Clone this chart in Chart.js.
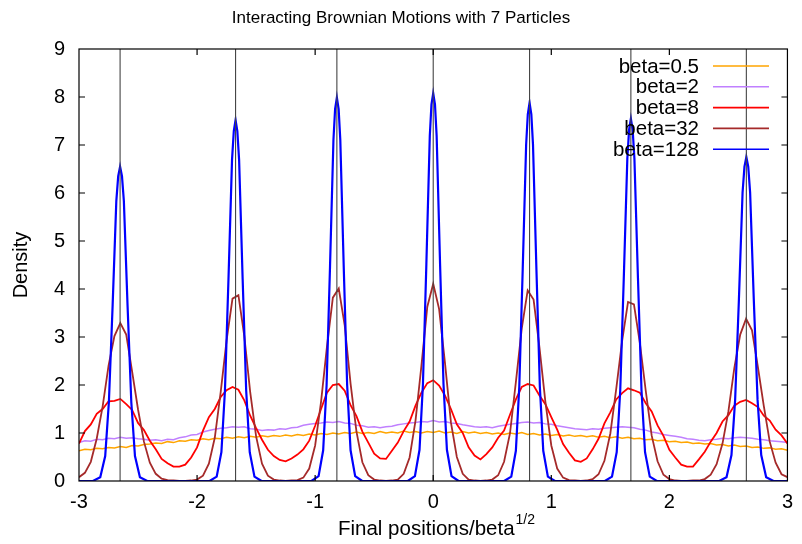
<!DOCTYPE html>
<html>
<head>
<meta charset="utf-8">
<script src="https://cdn.jsdelivr.net/npm/chart.js@4.4.0/dist/chart.umd.min.js"></script>
<style>
  html, body { margin: 0; padding: 0; background: #fff; }
</style>
</head>
<body>
<canvas id="chart" width="802" height="544"></canvas>
<script>
// positions where the histograms were sampled
const gridX = [
  -3.00, -2.95, -2.90, -2.85, -2.80, -2.75, -2.70, -2.65, -2.60, -2.55,
  -2.50, -2.45, -2.40, -2.35, -2.30, -2.25, -2.20, -2.15, -2.10, -2.05,
  -2.00, -1.95, -1.90, -1.85, -1.80, -1.75, -1.70, -1.65, -1.60, -1.55,
  -1.50, -1.45, -1.40, -1.35, -1.30, -1.25, -1.20, -1.15, -1.10, -1.05,
  -1.00, -0.95, -0.90, -0.85, -0.80, -0.75, -0.70, -0.65, -0.60, -0.55,
  -0.50, -0.45, -0.40, -0.35, -0.30, -0.25, -0.20, -0.15, -0.10, -0.05,
   0.00,  0.05,  0.10,  0.15,  0.20,  0.25,  0.30,  0.35,  0.40,  0.45,
   0.50,  0.55,  0.60,  0.65,  0.70,  0.75,  0.80,  0.85,  0.90,  0.95,
   1.00,  1.05,  1.10,  1.15,  1.20,  1.25,  1.30,  1.35,  1.40,  1.45,
   1.50,  1.55,  1.60,  1.65,  1.70,  1.75,  1.80,  1.85,  1.90,  1.95,
   2.00,  2.05,  2.10,  2.15,  2.20,  2.25,  2.30,  2.35,  2.40,  2.45,
   2.50,  2.55,  2.60,  2.65,  2.70,  2.75,  2.80,  2.85,  2.90,  2.95,
   3.00
];

const beta05 = [
  0.63, 0.66, 0.65, 0.68, 0.67, 0.70, 0.69, 0.72, 0.70, 0.74,
  0.73, 0.76, 0.77, 0.79, 0.78, 0.82, 0.80, 0.84, 0.83, 0.86,
  0.85, 0.88, 0.86, 0.89, 0.88, 0.91, 0.89, 0.92, 0.90, 0.93,
  0.91, 0.94, 0.92, 0.95, 0.93, 0.96, 0.94, 0.97, 0.95, 0.98,
  0.96, 0.99, 0.97, 1.00, 0.98, 1.01, 0.99, 1.02, 0.99, 1.01,
  0.99, 1.03, 1.00, 1.02, 1.00, 1.04, 1.01, 1.03, 1.00, 1.03,
  1.01, 1.04, 1.00, 1.02, 0.99, 1.03, 1.00, 1.02, 0.99, 1.01,
  0.98, 1.00, 0.97, 1.00, 0.98, 1.01, 0.97, 0.99, 0.96, 0.98,
  0.95, 0.97, 0.94, 0.96, 0.93, 0.95, 0.92, 0.94, 0.91, 0.93,
  0.90, 0.92, 0.89, 0.91, 0.88, 0.89, 0.86, 0.87, 0.84, 0.85,
  0.82, 0.83, 0.80, 0.81, 0.78, 0.79, 0.77, 0.78, 0.75, 0.76,
  0.73, 0.75, 0.72, 0.73, 0.70, 0.71, 0.68, 0.69, 0.66, 0.67,
  0.64
];

const beta2 = [
  0.80, 0.84, 0.83, 0.87, 0.86, 0.89, 0.88, 0.91, 0.89, 0.90,
  0.88, 0.87, 0.85, 0.86, 0.84, 0.87, 0.86, 0.90, 0.92, 0.96,
  0.97, 1.02, 1.05, 1.08, 1.10, 1.11, 1.13, 1.12, 1.13, 1.09,
  1.08, 1.05, 1.07, 1.06, 1.09, 1.08, 1.11, 1.12, 1.16, 1.18,
  1.20, 1.21, 1.23, 1.22, 1.24, 1.21, 1.20, 1.16, 1.15, 1.12,
  1.13, 1.11, 1.13, 1.14, 1.17, 1.19, 1.21, 1.22, 1.24, 1.23,
  1.26, 1.23, 1.24, 1.21, 1.20, 1.17, 1.15, 1.13, 1.12, 1.13,
  1.11, 1.14, 1.16, 1.18, 1.20, 1.22, 1.23, 1.21, 1.22, 1.19,
  1.18, 1.15, 1.13, 1.11, 1.09, 1.08, 1.07, 1.09, 1.08, 1.10,
  1.11, 1.12, 1.13, 1.12, 1.11, 1.08, 1.06, 1.02, 1.00, 0.97,
  0.95, 0.93, 0.91, 0.88, 0.87, 0.85, 0.84, 0.86, 0.87, 0.89,
  0.88, 0.90, 0.91, 0.90, 0.89, 0.87, 0.86, 0.84, 0.83, 0.82,
  0.80
];

const beta8 = [
  0.78, 1.04, 1.18, 1.40, 1.50, 1.66, 1.67, 1.71, 1.60, 1.48,
  1.21, 1.06, 0.84, 0.66, 0.46, 0.37, 0.30, 0.30, 0.34, 0.49,
  0.70, 1.05, 1.33, 1.50, 1.75, 1.89, 1.96, 1.90, 1.68, 1.36,
  1.10, 0.86, 0.65, 0.52, 0.44, 0.41, 0.47, 0.55, 0.66, 0.84,
  1.15, 1.50, 1.84, 2.00, 2.02, 1.88, 1.58, 1.35, 1.03, 0.80,
  0.57, 0.47, 0.46, 0.63, 0.80, 1.04, 1.24, 1.57, 1.84, 2.04,
  2.10, 1.99, 1.78, 1.50, 1.18, 1.00, 0.70, 0.53, 0.45, 0.56,
  0.70, 0.90, 1.05, 1.38, 1.70, 1.96, 2.02, 1.99, 1.78, 1.60,
  1.33, 1.07, 0.77, 0.59, 0.43, 0.40, 0.47, 0.66, 0.88, 1.20,
  1.43, 1.70, 1.83, 1.93, 1.89, 1.84, 1.62, 1.45, 1.16, 0.94,
  0.65, 0.49, 0.34, 0.30, 0.30, 0.45, 0.61, 0.82, 1.00, 1.24,
  1.37, 1.57, 1.65, 1.69, 1.62, 1.54, 1.36, 1.26, 1.07, 0.95,
  0.78
];

const beta32 = [
  0.08, 0.17, 0.40, 0.88, 1.55, 2.40, 3.02, 3.29, 3.05, 2.28,
  1.49, 0.82, 0.38, 0.15, 0.05, 0.02, 0.01, 0.00, 0.00, 0.01,
  0.03, 0.11, 0.36, 0.90, 1.85, 2.93, 3.80, 3.87, 3.02, 1.85,
  0.93, 0.36, 0.11, 0.03, 0.01, 0.00, 0.01, 0.02, 0.07, 0.26,
  0.74, 1.65, 2.80, 3.82, 4.01, 3.25, 2.03, 1.03, 0.39, 0.12,
  0.03, 0.01, 0.00, 0.01, 0.03, 0.15, 0.49, 1.26, 2.40, 3.63,
  4.11, 3.58, 2.45, 1.22, 0.50, 0.15, 0.03, 0.01, 0.00, 0.01,
  0.03, 0.12, 0.40, 0.99, 2.06, 3.18, 3.97, 3.78, 2.78, 1.65,
  0.74, 0.26, 0.07, 0.02, 0.01, 0.00, 0.01, 0.04, 0.14, 0.42,
  0.99, 1.92, 2.92, 3.73, 3.68, 2.88, 1.88, 0.95, 0.41, 0.13,
  0.04, 0.01, 0.00, 0.00, 0.01, 0.01, 0.04, 0.13, 0.35, 0.78,
  1.45, 2.35, 3.05, 3.38, 3.14, 2.37, 1.56, 0.82, 0.38, 0.14,
  0.08
];

// beta=128 is so narrow it gets its own finer sample points
const beta128X = [
  -3.00,
  -2.882, -2.820, -2.778, -2.747, -2.715, -2.684, -2.668, -2.652, -2.636, -2.620, -2.589, -2.557, -2.526, -2.484, -2.422,
  -1.894, -1.834, -1.794, -1.764, -1.734, -1.704, -1.689, -1.674, -1.659, -1.644, -1.614, -1.584, -1.554, -1.514, -1.454,
  -1.031, -0.971, -0.932, -0.903, -0.874, -0.845, -0.831, -0.816, -0.801, -0.787, -0.758, -0.729, -0.700, -0.661, -0.601,
  -0.215, -0.155, -0.116, -0.087, -0.058, -0.029, -0.015, 0.000, 0.015, 0.029, 0.058, 0.087, 0.116, 0.155, 0.215,
  0.601, 0.661, 0.700, 0.729, 0.758, 0.787, 0.801, 0.816, 0.831, 0.845, 0.874, 0.903, 0.932, 0.971, 1.031,
  1.454, 1.514, 1.554, 1.584, 1.614, 1.644, 1.659, 1.674, 1.689, 1.704, 1.734, 1.764, 1.794, 1.834, 1.894,
  2.422, 2.484, 2.526, 2.557, 2.589, 2.620, 2.636, 2.652, 2.668, 2.684, 2.715, 2.747, 2.778, 2.820, 2.882,
  3.00
];
const beta128 = [
  0,
  0, 0.08, 0.52, 1.64, 3.67, 5.83, 6.35, 6.55, 6.35, 5.83, 3.67, 1.64, 0.52, 0.08, 0,
  0, 0.09, 0.60, 1.88, 4.21, 6.69, 7.29, 7.52, 7.29, 6.69, 4.21, 1.88, 0.60, 0.09, 0,
  0, 0.10, 0.64, 2.00, 4.47, 7.11, 7.75, 7.99, 7.75, 7.11, 4.47, 2.00, 0.64, 0.10, 0,
  0, 0.10, 0.65, 2.02, 4.52, 7.19, 7.84, 8.08, 7.84, 7.19, 4.52, 2.02, 0.65, 0.10, 0,
  0, 0.09, 0.63, 1.97, 4.41, 7.01, 7.64, 7.88, 7.64, 7.01, 4.41, 1.97, 0.63, 0.09, 0,
  0, 0.09, 0.60, 1.89, 4.23, 6.72, 7.32, 7.55, 7.32, 6.72, 4.23, 1.89, 0.60, 0.09, 0,
  0, 0.08, 0.54, 1.69, 3.78, 6.01, 6.55, 6.75, 6.55, 6.01, 3.78, 1.69, 0.54, 0.08, 0,
  0
];

// zeros of the Hermite polynomial H7 (vertical reference lines)
const hermiteZeros = [-2.652, -1.674, -0.816, 0, 0.816, 1.674, 2.652];

const seriesLabels = ['beta=0.5', 'beta=2', 'beta=8', 'beta=32', 'beta=128'];
const seriesColors = ['#ffa500', '#c080ff', '#ff0000', '#a52a2a', '#0000ff'];
const seriesWidths = [1.5, 1.5, 1.8, 1.8, 2.2];

const FONT = '"Liberation Sans", Arial, Helvetica, sans-serif';

function toPoints(xArr, yArr) {
  return xArr.map((x, i) => ({ x: x, y: yArr[i] }));
}

const curves = [
  toPoints(gridX, beta05),
  toPoints(gridX, beta2),
  toPoints(gridX, beta8),
  toPoints(gridX, beta32),
  toPoints(beta128X, beta128)
];

const datasets = curves.map((pts, i) => ({
  label: seriesLabels[i],
  data: pts,
  borderColor: seriesColors[i],
  borderWidth: seriesWidths[i],
  pointRadius: 0,
  tension: 0,
  fill: false,
  order: 5 - i
}));

// the reference lines sit on top of the curves
hermiteZeros.forEach(z => {
  datasets.push({
    label: '',
    data: [{ x: z, y: 0 }, { x: z, y: 9 }],
    borderColor: '#444',
    borderWidth: 1.1,
    pointRadius: 0,
    order: 0
  });
});

// gnuplot look: frame, inward ticks, legend, title and axis labels
const gnuplotDecor = {
  id: 'gnuplotDecor',
  afterDraw(chart) {
    const ctx = chart.ctx;
    const a = chart.chartArea;
    const xs = chart.scales.x, ys = chart.scales.y;
    ctx.save();
    ctx.strokeStyle = '#000';
    ctx.lineWidth = 1.2;
    ctx.strokeRect(a.left, a.top, a.right - a.left, a.bottom - a.top);

    const tl = 6;
    ctx.beginPath();
    xs.ticks.forEach(t => {
      if (t.value <= xs.min || t.value >= xs.max) return;
      const px = xs.getPixelForValue(t.value);
      ctx.moveTo(px, a.bottom); ctx.lineTo(px, a.bottom - tl);
      ctx.moveTo(px, a.top); ctx.lineTo(px, a.top + tl);
    });
    ys.ticks.forEach(t => {
      if (t.value <= ys.min || t.value >= ys.max) return;
      const py = ys.getPixelForValue(t.value);
      ctx.moveTo(a.left, py); ctx.lineTo(a.left + tl, py);
      ctx.moveTo(a.right, py); ctx.lineTo(a.right - tl, py);
    });
    ctx.stroke();

    // legend, text right aligned with the sample line after it
    ctx.font = '20.5px ' + FONT;
    ctx.textAlign = 'right';
    ctx.textBaseline = 'middle';
    seriesLabels.forEach((lab, i) => {
      const y = 66 + i * 20.8;
      ctx.fillStyle = '#000';
      ctx.fillText(lab, 699, y + 1);
      ctx.strokeStyle = seriesColors[i];
      ctx.lineWidth = 1.6;
      ctx.beginPath();
      ctx.moveTo(713, y); ctx.lineTo(769, y);
      ctx.stroke();
    });

    // title
    ctx.fillStyle = '#000';
    ctx.textAlign = 'center';
    ctx.font = '17px ' + FONT;
    ctx.fillText('Interacting Brownian Motions with 7 Particles', 401, 18);

    // x label with superscript
    const main = 'Final positions/beta', sup = '1/2';
    ctx.font = '20.5px ' + FONT;
    const w1 = ctx.measureText(main).width;
    ctx.font = '14px ' + FONT;
    const w2 = ctx.measureText(sup).width;
    const x0 = 436 - (w1 + w2) / 2;
    ctx.textAlign = 'left';
    ctx.textBaseline = 'alphabetic';
    ctx.font = '20.5px ' + FONT;
    ctx.fillText(main, x0, 535);
    ctx.font = '14px ' + FONT;
    ctx.fillText(sup, x0 + w1 + 1, 524);

    // y label
    ctx.translate(21, 265);
    ctx.rotate(-Math.PI / 2);
    ctx.textAlign = 'center';
    ctx.textBaseline = 'middle';
    ctx.font = '20px ' + FONT;
    ctx.fillText('Density', 0, 0);
    ctx.restore();
  }
};

new Chart(document.getElementById('chart'), {
  type: 'line',
  data: { datasets: datasets },
  options: {
    responsive: false,
    animation: false,
    layout: { padding: { top: 49, right: 7, left: 0, bottom: 0 }, autoPadding: false },
    plugins: { legend: { display: false }, title: { display: false }, tooltip: { enabled: false } },
    scales: {
      x: {
        type: 'linear', min: -3, max: 3,
        ticks: { stepSize: 1, padding: 9, color: '#000', font: { family: FONT, size: 20 } },
        grid: { display: false, drawTicks: false },
        border: { display: false },
        afterFit: s => { s.height = 63; }
      },
      y: {
        min: 0, max: 9,
        ticks: { stepSize: 1, padding: 14, color: '#000', font: { family: FONT, size: 20 } },
        grid: { display: false, drawTicks: false },
        border: { display: false },
        afterFit: s => { s.width = 79; }
      }
    }
  },
  plugins: [gnuplotDecor]
});
</script>
</body>
</html>
